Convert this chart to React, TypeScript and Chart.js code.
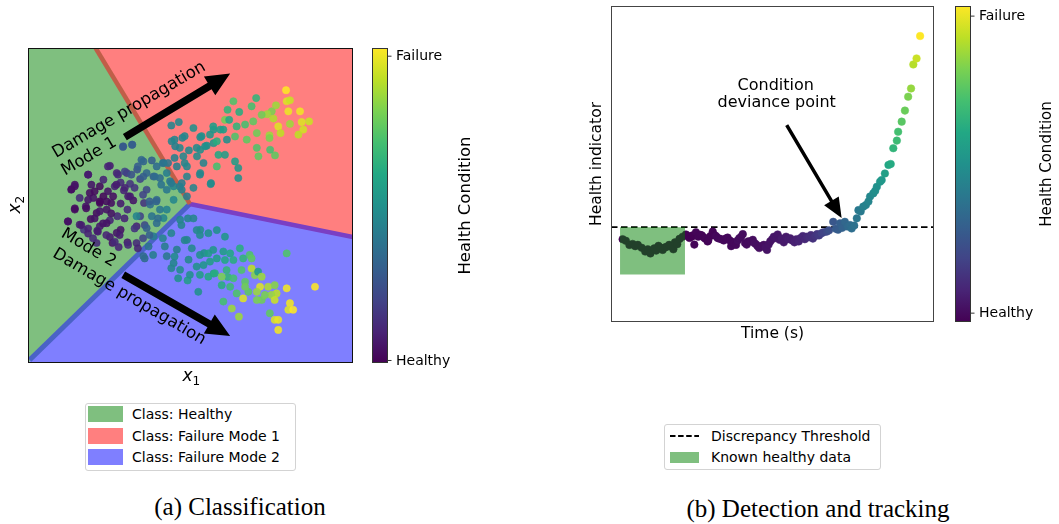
import React, { useEffect, useRef } from 'react';
import { Chart, registerables } from 'chart.js';

Chart.register(...registerables);

const SANS = "'DejaVu Sans', Verdana, sans-serif";
const SERIF = "'Liberation Serif', 'Times New Roman', serif";
Chart.defaults.font.family = SANS;

// ================= (a) Classification : data =================
const classNames = ['Class: Healthy', 'Class: Failure Mode 1', 'Class: Failure Mode 2'];
const healthyRegion = [[0, 0], [0, 100], [20.8, 100], [49.8, 50.5]];
const mode1Region = [[20.8, 100], [100, 100], [100, 40], [49.8, 50.5]];
const mode2Region = [[49.8, 50.5], [100, 40], [100, 0], [0, 0]];
const healthyMode1Border = [[20.8, 100], [49.8, 50.5]];
const mode1Mode2Border = [[49.8, 50.5], [100, 40]];
const healthyMode2Border = [[49.8, 50.5], [0.5, 1]];

// [x1, x2, health condition]
const healthyCluster = [
  [14.4, 56.1, .05], [13.4, 55.2, .05], [12.3, 45.0, .03], [15.9, 43.9, .08], [18.5, 59.8, .05], [25.2, 62.6, .08],
  [27.3, 60.3, .1], [22.1, 56.1, .03], [20.1, 52.4, .05], [22.1, 50.8, .02], [24.2, 48.7, .05], [21.1, 47.6, .03],
  [17.8, 49.7, .06], [19.3, 45.7, .04], [22.1, 43.4, .07], [25.2, 45.3, .1], [27.5, 46.6, .12], [28.5, 50.6, .08],
  [26.2, 52.9, .04], [29.5, 54.8, .1], [31.4, 56.9, .15], [32.4, 51.6, .06], [30.6, 48.7, .12], [28.5, 42.3, .05],
  [25.2, 40.0, .08], [21.3, 42.0, .1], [17.2, 42.3, .15], [21.1, 38.1, .12], [26.0, 38.1, .06], [30.6, 38.3, .08],
  [33.4, 43.4, .1], [34.5, 46.6, .2], [35.7, 50.8, .15], [36.5, 55.0, .22], [34.5, 58.4, .2], [33.6, 61.4, .25],
  [29.3, 68.8, .28], [32.0, 69.3, .3], [28.5, 57.3, .12], [23.2, 52.9, .02], [14.4, 48.7, .03], [18.5, 41.1, .1],
  [24.2, 44.4, .05], [27.9, 36.8, .1], [24.2, 51.3, .03], [19.0, 54.0, .04], [26.7, 56.1, .1], [31.4, 52.9, .08],
  [22.1, 48.2, .06], [15.9, 52.4, .12], [30.4, 60.3, .15], [33.4, 38.1, .12], [27.3, 41.3, .06], [23.2, 58.2, .1],
  [18.5, 59.8, .08], [24.6, 62.4, .1], [14.4, 56.6, .05], [13.3, 55.0, .04], [19.5, 56.6, .06], [20.5, 54.5, .03],
  [22.1, 51.3, .02], [24.6, 54.5, .05], [27.2, 56.6, .08], [27.7, 59.8, .12], [29.8, 55.6, .1], [30.8, 52.9, .08],
  [32.8, 55.6, .15], [35.4, 53.4, .2], [25.6, 50.8, .04], [18.5, 51.8, .06], [12.3, 44.9, .05], [14.4, 49.1, .03],
  [17.9, 49.1, .04], [16.4, 43.8, .08], [18.5, 42.7, .1], [20.0, 39.6, .12], [21.5, 41.7, .08], [20.5, 45.9, .05],
  [23.1, 44.3, .06], [24.1, 40.6, .1], [26.7, 38.5, .12], [28.2, 40.6, .08], [25.6, 47.5, .05], [29.7, 45.9, .1],
  [30.8, 37.5, .12], [32.8, 42.7, .15], [33.8, 36.4, .1], [35.4, 39.6, .2], [35.9, 43.8, .22],
];
const transitionPoints = [
  [35.5, 64.0, .32], [38.1, 64.3, .3], [39.6, 62.4, .35], [41.7, 63.5, .38], [36.5, 60.3, .33], [38.6, 59.2, .3],
  [40.6, 58.7, .35], [43.7, 57.7, .38], [42.7, 55.0, .4], [44.8, 56.1, .45], [47.3, 57.1, .42], [39.6, 51.8, .33],
  [37.6, 50.3, .35], [40.6, 48.7, .4], [38.1, 46.6, .38], [39.6, 44.4, .35], [36.5, 42.8, .3], [38.6, 40.2, .42],
  [37.1, 37.0, .38], [35.5, 33.9, .35], [33.4, 46.6, .45], [48.9, 52.9, .42], [47.3, 55.0, .44], [44.8, 51.8, .46],
  [42.7, 48.7, .44], [41.7, 46.0, .45], [37.4, 51.3, .3], [39.5, 51.3, .32], [29.2, 68.6, .28], [32.1, 69.3, .3],
  [34.9, 64.5, .33], [33.8, 62.4, .3], [29.8, 60.8, .2], [31.8, 59.8, .25], [35.5, 59.2, .3], [39.0, 59.2, .35],
  [41.0, 56.6, .38], [44.1, 57.1, .4], [46.7, 56.0, .42], [41.5, 63.5, .38], [43.1, 63.5, .4], [37.4, 40.6, .3],
  [38.5, 34.3, .42], [35.9, 33.2, .35], [40.0, 45.9, .35], [41.5, 39.6, .45], [42.1, 37.0, .42], [44.1, 41.2, .45],
  [45.1, 33.8, .48], [44.1, 30.1, .45], [46.2, 26.9, .5], [48.2, 39.0, .45], [49.2, 45.9, .45], [47.2, 43.8, .45],
];
const mode1Points = [
  [44.1, 75.4, .45], [46.4, 76.5, .47], [45.1, 70.9, .45], [48.2, 72.0, .47], [46.7, 68.3, .46], [45.1, 65.1, .44],
  [48.2, 63.5, .46], [44.2, 70.4, .45], [45.3, 68.8, .44], [47.8, 65.6, .47], [48.9, 62.4, .46], [45.8, 62.4, .43],
  [42.7, 60.3, .42], [48.9, 59.2, .45], [53.0, 71.7, .48], [55.0, 69.0, .5], [57.1, 74.1, .52], [59.2, 74.1, .55],
  [61.2, 70.9, .5], [54.0, 63.5, .45], [52.0, 65.6, .48], [53.0, 60.3, .48], [56.3, 57.1, .47], [53.0, 67.7, .5],
  [57.1, 69.8, .52], [47.5, 71.5, .45], [49.5, 67.5, .47],
  [79.4, 86.6, 1], [79.6, 83.1, .95], [80.6, 83.4, .92], [80.1, 79.9, .97], [83.7, 79.9, .98], [84.2, 76.5, .95],
  [86.5, 76.7, .92], [84.7, 74.1, .93], [83.2, 72.5, .9], [80.6, 75.9, .85], [77.0, 75.1, .95], [77.7, 73.0, .9],
  [75.5, 77.6, .88], [76.3, 81.8, .85], [75.0, 79.9, .8], [73.6, 79.0, .85], [71.9, 78.8, .78], [74.3, 72.3, .85],
  [74.3, 71.4, .8], [76.0, 65.9, .75], [74.5, 67.7, .7], [70.4, 68.3, .72], [70.9, 65.6, .75], [70.2, 84.1, .65],
  [68.8, 81.5, .7], [63.2, 83.1, .72], [61.4, 80.4, .65], [60.6, 77.2, .78], [65.0, 79.7, .62], [66.8, 75.7, .7],
  [69.3, 76.7, .75], [70.4, 73.0, .78], [67.3, 70.9, .75], [63.7, 71.9, .72], [64.2, 75.1, .65], [61.9, 77.2, .6],
  [60.1, 74.1, .55], [58.1, 70.4, .62], [57.0, 75.1, .55], [56.0, 72.5, .52], [53.4, 72.0, .5], [50.9, 74.6, .5],
  [51.9, 68.3, .48], [54.5, 68.8, .5], [58.6, 66.1, .6], [60.6, 66.1, .55], [58.1, 62.4, .7], [63.7, 64.0, .55],
  [64.7, 61.9, .52], [64.7, 58.7, .5], [56.2, 56.8, .48], [52.9, 59.8, .45], [50.9, 55.6, .45],
];
const mode2Points = [
  [46.8, 45.5, .45], [48.9, 39.1, .45], [45.8, 36.0, .42], [42.7, 33.9, .4], [44.8, 31.7, .45], [46.8, 29.6, .48],
  [49.4, 32.8, .47], [49.1, 26.2, .55], [54.2, 34.9, .5], [53.0, 42.3, .48], [57.1, 28.4, .55], [61.5, 27.3, .65],
  [50.9, 45.9, .45], [51.9, 42.2, .47], [52.9, 40.6, .48], [55.5, 41.2, .5], [58.1, 42.2, .5], [60.6, 40.1, .52],
  [50.4, 36.4, .47], [52.9, 34.3, .5], [55.5, 34.8, .55], [57.0, 35.9, .52], [60.1, 35.4, .55], [62.2, 34.8, .6],
  [65.2, 36.4, .62], [68.2, 34.3, .72], [68.8, 33.2, .75], [66.2, 33.2, .65], [63.2, 32.7, .62], [60.6, 32.7, .6],
  [58.1, 33.2, .55], [56.0, 32.2, .55], [54.0, 31.1, .52], [51.9, 30.6, .5], [52.9, 28.0, .55], [55.5, 27.4, .6],
  [57.5, 28.5, .62], [59.6, 27.4, .8], [61.1, 29.5, .65], [63.2, 26.9, .7], [65.7, 29.5, .72], [66.8, 25.8, .75],
  [68.8, 30.0, .9], [69.8, 27.9, .82], [70.8, 29.0, .55], [71.9, 27.4, .85], [71.4, 24.2, .95], [73.9, 24.2, .88],
  [75.9, 24.7, .82], [76.5, 22.1, .9], [74.9, 21.6, .85], [71.9, 20.0, .78], [70.4, 20.0, .8], [67.8, 22.6, .75],
  [66.2, 20.5, .95], [64.2, 22.1, .72], [62.2, 24.2, .68], [59.6, 24.7, .62], [66.8, 24.2, .78], [79.6, 23.7, .98],
  [88.3, 24.2, 1], [79.6, 34.8, .72], [75.9, 20.0, .92], [80.6, 19.0, .98], [80.1, 16.9, .95], [81.6, 16.9, 1],
  [74.4, 15.8, .75], [75.9, 13.7, .95], [77.0, 13.7, .97], [77.0, 10.5, .98], [64.9, 14.7, .85], [62.7, 17.3, .85],
  [60.1, 19.5, .7], [52.4, 22.6, .5], [49.8, 28.0, .5], [70.4, 22.6, .85], [72.9, 21.6, .8],
];

// ================= (b) Detection and tracking : data =================
// [time, health indicator, health condition]
const runPoints = [
  [3.6, 2.62, 0], [4.6, 2.57, 0], [5.7, 2.44, 0], [6.7, 2.47, 0], [7.5, 2.40, 0], [8.3, 2.44, 0], [9.5, 2.35, 0],
  [10.6, 2.23, 0], [11.4, 2.30, 0], [12.2, 2.17, 0], [13.4, 2.33, 0], [14.0, 2.26, 0], [14.7, 2.41, 0], [15.4, 2.35, 0],
  [16.0, 2.28, 0], [16.7, 2.36, 0], [17.3, 2.38, 0], [18.0, 2.44, 0], [18.6, 2.40, 0], [19.3, 2.30, 0], [19.8, 2.52, 0],
  [20.5, 2.46, 0], [21.2, 2.63, 0], [22.2, 2.70, 0],
  [23.2, 2.77, 0], [23.9, 2.72, 0], [24.3, 2.66, 0], [25.0, 2.70, 0], [25.3, 2.74, 0], [25.8, 2.45, .01], [26.3, 2.84, .01],
  [27.0, 2.70, .01], [27.6, 2.76, .01], [28.1, 2.74, .01], [28.7, 2.68, .01], [29.1, 2.64, .01], [29.9, 2.55, .01],
  [30.1, 2.58, .01], [30.8, 2.72, .01], [31.5, 2.86, .01], [32.0, 2.75, .01], [32.5, 2.72, .02], [33.0, 2.66, .02],
  [33.5, 2.64, .02], [34.2, 2.62, .02], [34.9, 2.58, .02], [35.5, 2.64, .02], [36.1, 2.67, .02], [36.8, 2.58, .02],
  [37.2, 2.40, .02], [37.4, 2.54, .02], [38.0, 2.50, .02], [38.7, 2.44, .02], [39.2, 2.58, .03], [39.7, 2.65, .03],
  [40.3, 2.70, .03], [40.8, 2.78, .03], [41.5, 2.50, .03], [42.0, 2.45, .03], [42.5, 2.55, .03], [43.2, 2.55, .03],
  [43.9, 2.60, .03], [44.4, 2.50, .04], [44.9, 2.46, .04], [45.4, 2.40, .04], [45.9, 2.34, .04], [46.6, 2.40, .04],
  [47.3, 2.44, .04], [47.8, 2.36, .05], [48.3, 2.28, .05], [48.8, 2.45, .05], [49.3, 2.55, .05], [49.9, 2.62, .05],
  [50.4, 2.70, .06], [51.0, 2.66, .06], [51.6, 2.77, .06], [52.2, 2.60, .06], [52.8, 2.64, .07], [53.5, 2.52, .07],
  [54.2, 2.70, .07], [54.8, 2.62, .08], [55.5, 2.65, .08], [56.1, 2.58, .08], [56.8, 2.52, .09], [57.4, 2.62, .09],
  [58.1, 2.55, .1], [58.7, 2.66, .1], [59.4, 2.72, .11], [60.0, 2.62, .11], [60.6, 2.70, .12], [61.3, 2.68, .13],
  [61.9, 2.75, .13], [62.5, 2.64, .14], [63.2, 2.72, .15], [63.8, 2.78, .16], [64.4, 2.74, .17], [65.2, 2.81, .19],
  [65.8, 2.84, .2], [66.8, 2.86, .22], [67.5, 2.90, .24], [68.8, 3.17, .27], [69.6, 2.95, .28], [70.3, 2.92, .29],
  [70.9, 3.12, .3], [71.6, 2.98, .31], [72.4, 3.17, .33], [73.2, 3.02, .34], [74.0, 3.07, .35], [74.5, 2.96, .36],
  [75.3, 3.05, .37], [76.1, 3.28, .39], [76.6, 3.54, .4], [77.3, 3.50, .41], [78.1, 3.65, .43], [78.9, 3.70, .44],
  [79.7, 3.81, .45], [80.2, 3.97, .46], [81.2, 4.07, .48], [81.8, 4.15, .49], [82.3, 4.28, .5], [83.3, 4.44, .52],
  [83.8, 4.49, .53], [84.8, 4.70, .56], [85.9, 4.97, .59], [86.6, 5.00, .61], [87.4, 5.50, .65], [88.5, 5.74, .68],
  [88.9, 6.02, .7], [90.0, 6.34, .74], [91.0, 6.69, .77], [92.0, 7.13, .8], [92.9, 7.39, .84], [93.6, 8.15, .89],
  [94.6, 8.34, .92], [95.7, 9.05, 1],
];
const thresholdLevel = 3.0;
const knownHealthyTime = [2.8, 22.9];
const knownHealthyIndicator = [1.5, 3.0];
const legendB = ['Discrepancy Threshold', 'Known healthy data'];

// ================= styling =================
const VIRIDIS = ['#440154', '#482475', '#414487', '#355f8d', '#2a788e', '#21918c', '#22a884', '#44bf70', '#7ad151', '#bddf26', '#fde725'];
const classColors = ['rgba(0,128,0,0.5)', 'rgba(255,0,0,0.5)', 'rgba(0,0,255,0.5)'];
const hexRgb = (h: string) => [1, 3, 5].map((i) => parseInt(h.slice(i, i + 2), 16));
function viridis(t: number, alpha = 1) {
  const v = Math.min(1, Math.max(0, t)) * (VIRIDIS.length - 1);
  const i = Math.min(VIRIDIS.length - 2, Math.floor(v));
  const f = v - i;
  const a = hexRgb(VIRIDIS[i]);
  const b = hexRgb(VIRIDIS[i + 1]);
  const c = a.map((q, k) => Math.round(q + (b[k] - q) * f));
  return `rgba(${c[0]},${c[1]},${c[2]},${alpha})`;
}
const xy = (pts: number[][]) => pts.map((p) => ({ x: p[0], y: p[1] }));

function blockArrow(ctx: CanvasRenderingContext2D, x0: number, y0: number, x1: number, y1: number, shaft: number, headW: number, headL: number) {
  const dx = x1 - x0, dy = y1 - y0, len = Math.hypot(dx, dy);
  const ux = dx / len, uy = dy / len, nx = -uy, ny = ux;
  const bx = x1 - ux * headL, by = y1 - uy * headL;
  ctx.beginPath();
  ctx.moveTo(x0 + nx * shaft / 2, y0 + ny * shaft / 2);
  ctx.lineTo(bx + nx * shaft / 2, by + ny * shaft / 2);
  ctx.lineTo(bx + nx * headW / 2, by + ny * headW / 2);
  ctx.lineTo(x1, y1);
  ctx.lineTo(bx - nx * headW / 2, by - ny * headW / 2);
  ctx.lineTo(bx - nx * shaft / 2, by - ny * shaft / 2);
  ctx.lineTo(x0 - nx * shaft / 2, y0 - ny * shaft / 2);
  ctx.closePath();
  ctx.fill();
}

function drawColorbar(ctx: CanvasRenderingContext2D, x: number, top: number, bottom: number, w: number,
  ticks: { label: string; value: number }[], title: string, titleX: number, titleFont: string) {
  const g = ctx.createLinearGradient(0, bottom, 0, top);
  VIRIDIS.forEach((c, i) => g.addColorStop(i / (VIRIDIS.length - 1), c));
  ctx.fillStyle = g;
  ctx.fillRect(x, top, w, bottom - top);
  ctx.strokeStyle = '#333';
  ctx.lineWidth = 1;
  ctx.strokeRect(x + 0.5, top + 0.5, w - 1, bottom - top - 1);
  ctx.fillStyle = '#000';
  ctx.font = `14px ${SANS}`;
  ctx.textAlign = 'left';
  ctx.textBaseline = 'middle';
  for (const t of ticks) {
    const y = bottom - t.value * (bottom - top);
    ctx.beginPath();
    ctx.moveTo(x + w, y);
    ctx.lineTo(x + w + 3.5, y);
    ctx.stroke();
    ctx.fillText(t.label, x + w + 8, y + 0.5);
  }
  ctx.save();
  ctx.translate(titleX, (top + bottom) / 2);
  ctx.rotate(-Math.PI / 2);
  ctx.textAlign = 'center';
  ctx.font = titleFont;
  ctx.fillText(title, 0, 0);
  ctx.restore();
}

function rotatedText(ctx: CanvasRenderingContext2D, text: string, x: number, y: number, deg: number) {
  ctx.save();
  ctx.translate(x, y);
  ctx.rotate((deg * Math.PI) / 180);
  ctx.textAlign = 'center';
  ctx.textBaseline = 'middle';
  ctx.fillText(text, 0, 0);
  ctx.restore();
}

// annotation placements (data units of each plot)
const propagationLabels = [
  { text: 'Damage propagation', at: [31.1, 80.3], angle: -30.5 },
  { text: 'Mode 1', at: [18.8, 65.5], angle: -30.5 },
  { text: 'Mode 2', at: [18.6, 36.5], angle: 30.5 },
  { text: 'Damage propagation', at: [31.1, 21.0], angle: 30.5 },
];
const propagationArrows = [
  { from: [29.8, 71.7], to: [62.2, 91.9] },
  { from: [29.3, 28.0], to: [62.2, 8.6] },
];
const devianceNote = {
  lines: [{ text: 'Condition', at: [51.0, 7.47] }, { text: 'deviance point', at: [51.3, 6.93] }],
  from: [54.4, 6.23],
  to: [71.4, 3.29],
};

const noAxis = (min: number, max: number) => ({ type: 'linear' as const, min, max, display: false });

function polygonSet(pts: number[][], color: string, order: number) {
  return { data: xy(pts), showLine: true, fill: 'shape', backgroundColor: color, borderWidth: 0, pointRadius: 0, order };
}
function borderSet(pts: number[][], color: string, width: number, order: number) {
  return { data: xy(pts), showLine: true, fill: false, borderColor: color, borderWidth: width, pointRadius: 0, order };
}

const classificationDecor = {
  id: 'classificationDecor',
  afterDatasetsDraw(chart: any) {
    const { ctx, scales: { x, y } } = chart;
    ctx.save();
    ctx.fillStyle = '#000';
    for (const a of propagationArrows) {
      blockArrow(ctx, x.getPixelForValue(a.from[0]), y.getPixelForValue(a.from[1]),
        x.getPixelForValue(a.to[0]), y.getPixelForValue(a.to[1]), 7.5, 22, 24);
    }
    ctx.font = `16.5px ${SANS}`;
    for (const l of propagationLabels) {
      rotatedText(ctx, l.text, x.getPixelForValue(l.at[0]), y.getPixelForValue(l.at[1]), l.angle);
    }
    ctx.restore();
  },
  afterDraw(chart: any) {
    const { ctx, chartArea: a } = chart;
    ctx.save();
    ctx.strokeStyle = '#111';
    ctx.lineWidth = 1;
    ctx.strokeRect(a.left + 0.5, a.top + 0.5, a.right - a.left - 1, a.bottom - a.top - 1);
    drawColorbar(ctx, a.right + 19, a.top, a.bottom, 16,
      [{ label: 'Failure', value: 0.974 }, { label: 'Healthy', value: 0.008 }],
      'Health Condition', a.right + 113, `16.5px ${SANS}`);
    ctx.fillStyle = '#000';
    ctx.textBaseline = 'alphabetic';
    const cx = (a.left + a.right) / 2;
    ctx.font = `italic 17px ${SANS}`;
    ctx.textAlign = 'left';
    ctx.fillText('x', cx - 8, a.bottom + 18);
    ctx.font = `12px ${SANS}`;
    ctx.fillText('1', cx + 2, a.bottom + 22);
    ctx.save();
    ctx.translate(a.left - 8, (a.top + a.bottom) / 2);
    ctx.rotate(-Math.PI / 2);
    ctx.font = `italic 17px ${SANS}`;
    ctx.fillText('x', -8, 0);
    ctx.font = `12px ${SANS}`;
    ctx.fillText('2', 2, 4);
    ctx.restore();
    ctx.restore();
  },
};

const detectionDecor = {
  id: 'detectionDecor',
  afterDatasetsDraw(chart: any) {
    const { ctx, scales: { x, y } } = chart;
    ctx.save();
    ctx.fillStyle = '#000';
    ctx.font = `16px ${SANS}`;
    for (const l of devianceNote.lines) {
      ctx.textAlign = 'center';
      ctx.textBaseline = 'middle';
      ctx.fillText(l.text, x.getPixelForValue(l.at[0]), y.getPixelForValue(l.at[1]));
    }
    blockArrow(ctx, x.getPixelForValue(devianceNote.from[0]), y.getPixelForValue(devianceNote.from[1]),
      x.getPixelForValue(devianceNote.to[0]), y.getPixelForValue(devianceNote.to[1]), 3.5, 17, 20);
    ctx.restore();
  },
  afterDraw(chart: any) {
    const { ctx, chartArea: a } = chart;
    ctx.save();
    ctx.strokeStyle = '#444';
    ctx.lineWidth = 1;
    ctx.strokeRect(a.left + 0.5, a.top + 0.5, a.right - a.left - 1, a.bottom - a.top - 1);
    drawColorbar(ctx, a.right + 21, a.top, a.bottom, 16,
      [{ label: 'Failure', value: 0.968 }, { label: 'Healthy', value: 0.028 }],
      'Health Condition', a.right + 113, `15px ${SANS}`);
    ctx.fillStyle = '#000';
    ctx.font = `15.5px ${SANS}`;
    ctx.textAlign = 'center';
    ctx.textBaseline = 'middle';
    ctx.fillText('Time (s)', (a.left + a.right) / 2, a.bottom + 12);
    rotatedText(ctx, 'Health indicator', a.left - 14, (a.top + a.bottom) / 2, -90);
    ctx.restore();
  },
};

const classificationPoints = [...healthyCluster, ...transitionPoints, ...mode1Points, ...mode2Points];

const baseOptions = (padding: any, xr: number[], yr: number[]) => ({
  animation: false,
  responsive: false,
  events: [],
  layout: { padding },
  plugins: { legend: { display: false }, tooltip: { enabled: false } },
  scales: { x: noAxis(xr[0], xr[1]), y: noAxis(yr[0], yr[1]) },
});

export default function App() {
  const refA = useRef<HTMLCanvasElement>(null);
  const refB = useRef<HTMLCanvasElement>(null);

  useEffect(() => {
    const chartA = new Chart(refA.current as HTMLCanvasElement, {
      type: 'scatter',
      data: {
        datasets: [
          {
            data: xy(classificationPoints),
            backgroundColor: classificationPoints.map((p) => viridis(p[2], 0.88)),
            borderColor: classificationPoints.map((p) => viridis(p[2], 0.95)),
            borderWidth: 0.6,
            pointRadius: 3.6,
            order: 0,
          },
          borderSet(healthyMode1Border, '#c05e48', 4.5, 5),
          borderSet(mode1Mode2Border, '#7a3fc4', 4.5, 5),
          borderSet(healthyMode2Border, '#4a62c6', 5, 5),
          polygonSet(healthyRegion, classColors[0], 10),
          polygonSet(mode1Region, classColors[1], 10),
          polygonSet(mode2Region, classColors[2], 10),
        ] as any,
      },
      options: baseOptions({ left: 28, top: 48, right: 177, bottom: 27 }, [0, 100], [0, 100]) as any,
      plugins: [classificationDecor],
    });

    const rect = [
      [knownHealthyTime[0], knownHealthyIndicator[0]], [knownHealthyTime[0], knownHealthyIndicator[1]],
      [knownHealthyTime[1], knownHealthyIndicator[1]], [knownHealthyTime[1], knownHealthyIndicator[0]],
    ];
    const chartB = new Chart(refB.current as HTMLCanvasElement, {
      type: 'scatter',
      data: {
        datasets: [
          polygonSet(rect, classColors[0], 0),
          {
            data: xy(runPoints),
            backgroundColor: runPoints.map((p) => viridis(p[2])),
            borderColor: runPoints.map((p) => viridis(p[2])),
            borderWidth: 0.5,
            pointRadius: 3.8,
            order: 1,
          },
          {
            data: [{ x: 0, y: thresholdLevel }, { x: 100, y: thresholdLevel }],
            showLine: true,
            fill: false,
            borderColor: '#000',
            borderWidth: 1.8,
            borderDash: [6.5, 3.5],
            pointRadius: 0,
            order: 2,
          },
        ] as any,
      },
      options: baseOptions({ left: 81, top: 6, right: 125, bottom: 68 }, [0, 100], [0, 10]) as any,
      plugins: [detectionDecor],
    });

    return () => {
      chartA.destroy();
      chartB.destroy();
    };
  }, []);

  return (
    <div style={{ position: 'absolute', left: 0, top: 0, width: 1059, height: 524, background: '#fff', fontFamily: SANS, color: '#000' }}>
      <canvas ref={refA} width={530} height={390} style={{ position: 'absolute', left: 0, top: 0 }} />
      <canvas ref={refB} width={529} height={390} style={{ position: 'absolute', left: 530, top: 0 }} />

      <div style={{ position: 'absolute', left: 85, top: 403, width: 209, height: 66, border: '1px solid #d3d3d3', borderRadius: 3, background: '#fff' }}>
        {classNames.map((n, i) => (
          <div key={n} style={{ position: 'absolute', left: 2, top: 2 + i * 21.5, height: 16, display: 'flex', alignItems: 'center' }}>
            <span style={{ display: 'inline-block', width: 35, height: 16, background: classColors[i] }} />
            <span style={{ marginLeft: 9, fontSize: 14, lineHeight: '16px', whiteSpace: 'nowrap' }}>{n}</span>
          </div>
        ))}
      </div>

      <div style={{ position: 'absolute', left: 664, top: 424, width: 215, height: 44, border: '1px solid #d3d3d3', borderRadius: 3, background: '#fff' }}>
        <div style={{ position: 'absolute', left: 5, top: 3, height: 16, display: 'flex', alignItems: 'center' }}>
          <svg width={29} height={16}>
            <line x1={0} y1={8} x2={29} y2={8} stroke="#000" strokeWidth={1.8} strokeDasharray="5.5 2.6" />
          </svg>
          <span style={{ marginLeft: 12, fontSize: 14, lineHeight: '16px', whiteSpace: 'nowrap' }}>{legendB[0]}</span>
        </div>
        <div style={{ position: 'absolute', left: 5, top: 24, height: 16, display: 'flex', alignItems: 'center' }}>
          <span style={{ display: 'inline-block', width: 29, height: 11, background: classColors[0] }} />
          <span style={{ marginLeft: 12, fontSize: 14, lineHeight: '16px', whiteSpace: 'nowrap' }}>{legendB[1]}</span>
        </div>
      </div>

      <div style={{ position: 'absolute', left: 90, width: 300, top: 492, textAlign: 'center', fontFamily: SERIF, fontSize: 25, lineHeight: '30px' }}>
        (a) Classification
      </div>
      <div style={{ position: 'absolute', left: 618, width: 400, top: 494, textAlign: 'center', fontFamily: SERIF, fontSize: 25, lineHeight: '30px' }}>
        (b) Detection and tracking
      </div>
    </div>
  );
}
